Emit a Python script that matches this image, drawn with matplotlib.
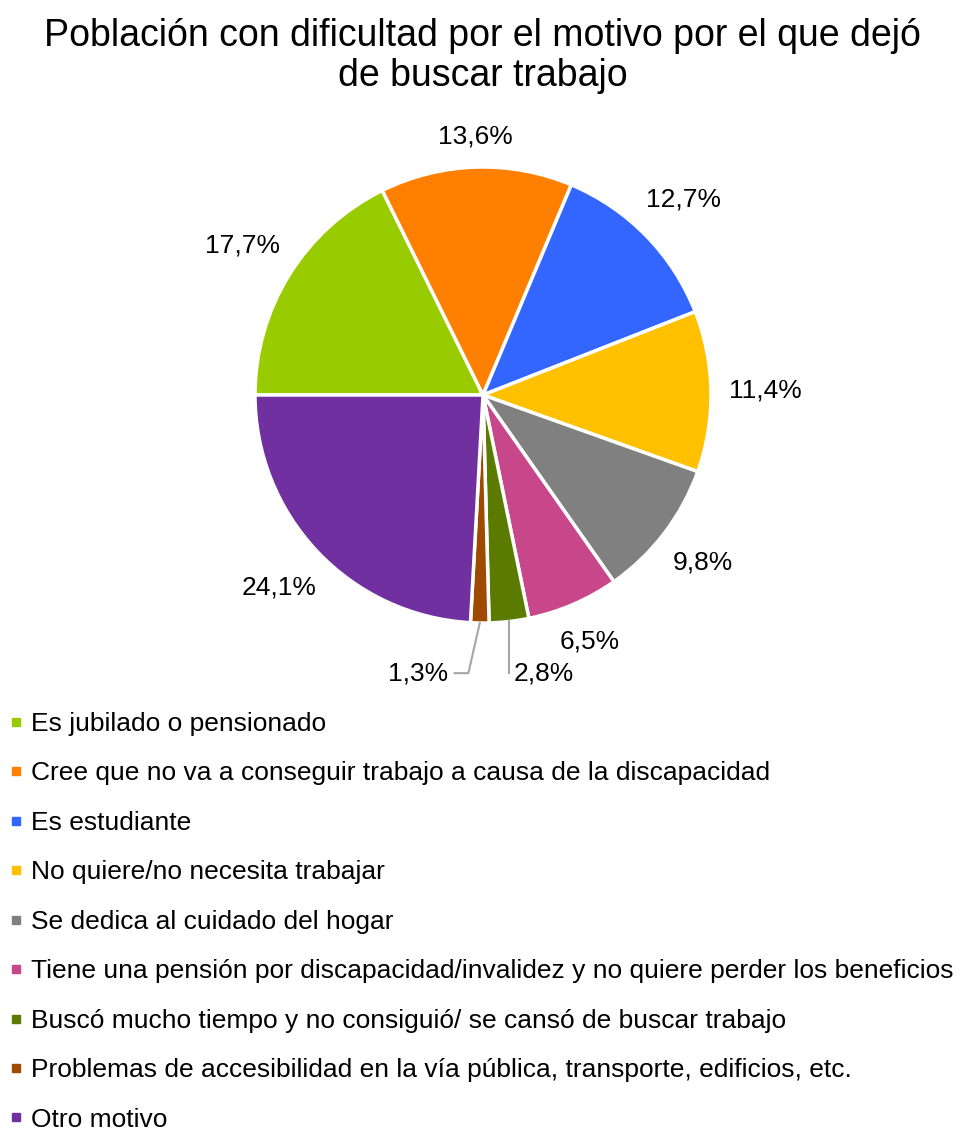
import numpy as np
import matplotlib
matplotlib.use('Agg')
import matplotlib.pyplot as plt
from matplotlib.lines import Line2D

plt.rcParams['font.family'] = ['Liberation Sans', 'DejaVu Sans']

categorias = ['Es jubilado o pensionado',
              'Cree que no va a conseguir trabajo a causa de la discapacidad',
              'Es estudiante',
              'No quiere/no necesita trabajar',
              'Se dedica al cuidado del hogar',
              'Tiene una pensión por discapacidad/invalidez y no quiere perder los beneficios',
              'Buscó mucho tiempo y no consiguió/ se cansó de buscar trabajo',
              'Problemas de accesibilidad en la vía pública, transporte, edificios, etc.',
              'Otro motivo']
valores = [17.7, 13.6, 12.7, 11.4, 9.8, 6.5, 2.8, 1.3, 24.1]
etiquetas = ['17,7%', '13,6%', '12,7%', '11,4%', '9,8%', '6,5%', '2,8%', '1,3%', '24,1%']
colores = ['#99CC00', '#FF8000', '#3366FF', '#FFC000', '#808080',
           '#C8478A', '#5B7B00', '#9E4A00', '#7030A0']

W, H = 965, 1133
fig = plt.figure(figsize=(W / 100, H / 100), dpi=100)

# pie center (483, 395) px, radius 228 px
cx, cy, r = 483, 395, 228
ax = fig.add_axes([(cx - r) / W, (H - cy - r) / H, 2 * r / W, 2 * r / H])

wedges, _ = ax.pie(valores, colors=colores, startangle=180, counterclock=False,
                   radius=1, wedgeprops=dict(edgecolor='white', linewidth=2.5))
ax.set_xlim(-1, 1)
ax.set_ylim(-1, 1)
ax.axis('off')

fs = 19
gap, hh = 0.08, 0.05
for i, w in enumerate(wedges):
    if etiquetas[i] in ('2,8%', '1,3%'):
        continue
    mid = np.deg2rad((w.theta1 + w.theta2) / 2)
    c, s = np.cos(mid), np.sin(mid)
    hw = 0.032 * len(etiquetas[i])
    d = 1 + gap + abs(c) * hw + abs(s) * hh
    ax.text(d * c, d * s, etiquetas[i], ha='center', va='center', fontsize=fs)

# small slices with leader lines
for i, ha in [(6, 'left'), (7, 'right')]:
    w = wedges[i]
    mid = np.deg2rad((w.theta1 + w.theta2) / 2)
    x0, y0 = np.cos(mid), np.sin(mid)
    ty = -1.22
    if ha == 'left':
        xs, ys = [x0, x0], [y0, ty]
        tx = x0 + 0.02
    else:
        xs, ys = [x0, x0 - 0.05, x0 - 0.11], [y0, ty, ty]
        tx = x0 - 0.14
    ax.plot(xs, ys, color='#A6A6A6', lw=1.5, clip_on=False)
    ax.text(tx, ty, etiquetas[i], ha=ha, va='center', fontsize=fs)

fig.text(0.5, 1 - 56 / H, 'Población con dificultad por el motivo por el que dejó\nde buscar trabajo',
         ha='center', va='center', fontsize=27, linespacing=1.15)

handles = [Line2D([], [], marker='s', color=c, linestyle='none', markersize=6) for c in colores]
fig.legend(handles, categorias, loc='upper left', bbox_to_anchor=(10 / W, 1 - 712 / H),
           frameon=False, fontsize=fs, handlelength=0.45, handletextpad=0.35,
           labelspacing=0.965, borderaxespad=0, borderpad=0)

fig.savefig('out.png', dpi=100, facecolor='white')
